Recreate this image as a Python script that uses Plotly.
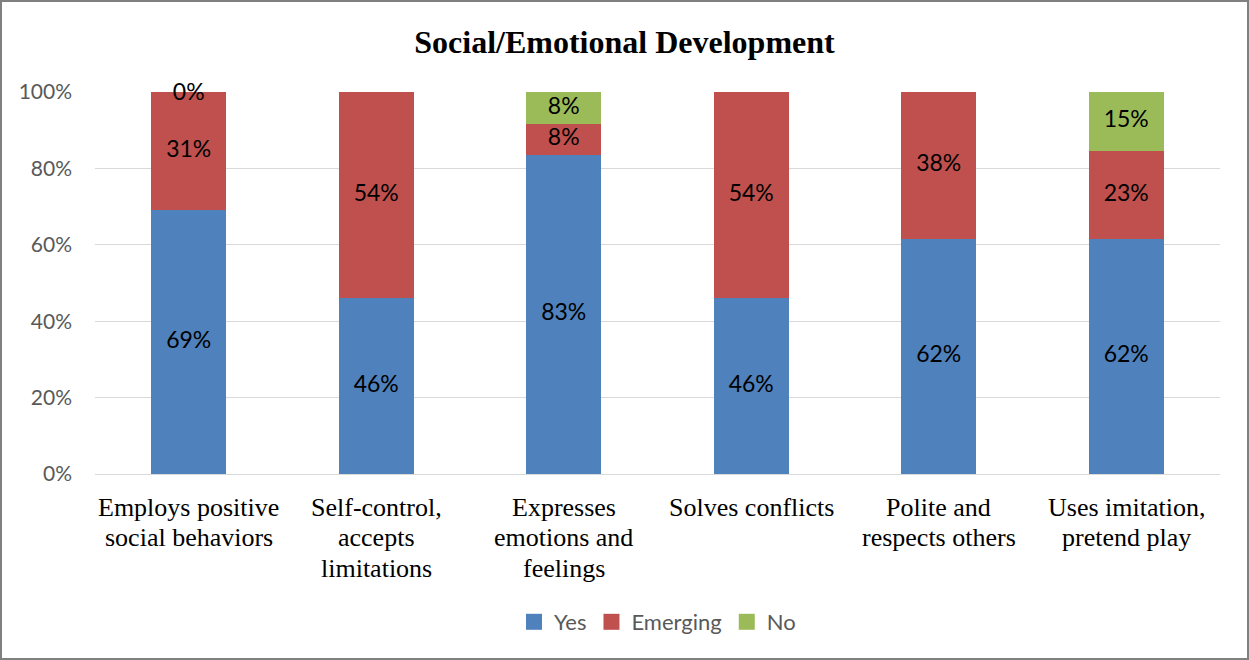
import plotly.graph_objects as go

categories = ["Employs positive<br>social behaviors", "Self-control,<br>accepts<br>limitations",
              "Expresses<br>emotions and<br>feelings", "Solves conflicts",
              "Polite and<br>respects others", "Uses imitation,<br>pretend play"]
yes_vals = [69.2, 46.2, 83.4, 46.2, 61.5, 61.5]
emerging_vals = [30.8, 53.8, 8.3, 53.8, 38.5, 23.1]
no_vals = [0.0, 0.0, 8.3, 0.0, 0.0, 15.4]
show_zero_label = [True, False, False, False, False, False]
y_ticks = [0, 20, 40, 60, 80, 100]
y_tick_labels = ["0%", "20%", "40%", "60%", "80%", "100%"]

series = [("Yes", yes_vals, "#4f81bd"), ("Emerging", emerging_vals, "#c0504d"), ("No", no_vals, "#9bbb59")]

W, H = 1249, 660
L, R, T, B = 95, 29, 92, 186
pw, ph = W - L - R, H - T - B

fig = go.Figure()
for name, vals, col in series:
    fig.add_trace(go.Bar(x=categories, y=vals, name=name, marker=dict(color=col, line=dict(width=0)),
                         width=0.4, showlegend=False, legendgroup=name))

# data labels
base = [0.0] * len(categories)
lx, ly, lt = [], [], []
for name, vals, col in series:
    for i, v in enumerate(vals):
        if v > 0:
            lx.append(categories[i]); ly.append(base[i] + v / 2); lt.append(f"{round(v)}%")
        elif name == "No" and show_zero_label[i]:
            lx.append(categories[i]); ly.append(base[i] - 0.5); lt.append("0%")
        base[i] += v
fig.add_trace(go.Scatter(x=lx, y=ly, text=lt, mode="text", showlegend=False, hoverinfo="skip",
                         cliponaxis=False,
                         textfont=dict(family="Lato", size=23, color="#000000")))

# legend entries with larger square swatches
for name, vals, col in series:
    fig.add_trace(go.Scatter(x=[None], y=[None], mode="markers", name=name, legendgroup=name,
                             marker=dict(symbol="square", size=16, color=col), hoverinfo="skip"))

# category labels, one annotation per line for tighter line spacing
line_h = 30.5
for c in categories:
    for j, part in enumerate(c.split("<br>")):
        fig.add_annotation(x=c, xref="x", y=0, yref="paper", text=part, showarrow=False,
                           yanchor="middle", xanchor="center", yshift=-(33 + j * line_h),
                           font=dict(family="Liberation Serif", size=26, color="#000000"))

fig.update_layout(
    barmode="stack",
    width=W, height=H,
    margin=dict(l=L, r=R, t=T, b=B),
    paper_bgcolor="white", plot_bgcolor="white",
    title=dict(text="<b>Social/Emotional Development</b>", x=0.5, xanchor="center",
               y=1 - 42 / H, yanchor="middle",
               font=dict(family="Liberation Serif", size=32, color="#000000")),
    xaxis=dict(showticklabels=False, showline=False, ticks="", showgrid=False),
    yaxis=dict(range=[0, 100], tickvals=y_ticks, ticktext=y_tick_labels,
               tickfont=dict(family="Lato", size=21, color="#595959"),
               showgrid=True, gridcolor="#d9d9d9", gridwidth=1.3,
               zeroline=True, zerolinecolor="#d9d9d9", zerolinewidth=1.3,
               ticks="", ticklen=0, ticklabelstandoff=22),
    legend=dict(orientation="h", x=0.5, xanchor="center", y=-(622 - (H - B)) / ph, yanchor="middle",
                font=dict(family="Lato", size=22, color="#595959"), itemwidth=30,
                traceorder="normal"),
    showlegend=True,
)
fig.add_shape(type="rect", xref="paper", yref="paper",
              x0=-(L - 1) / pw, x1=(W - L - 1) / pw,
              y0=-(B - 1) / ph, y1=1 + (T - 1) / ph,
              line=dict(color="#808080", width=2), fillcolor="rgba(0,0,0,0)")

fig.write_html("out.html", config={"displayModeBar": False},
               post_script="document.body.style.margin='0';document.body.style.overflow='hidden';")
